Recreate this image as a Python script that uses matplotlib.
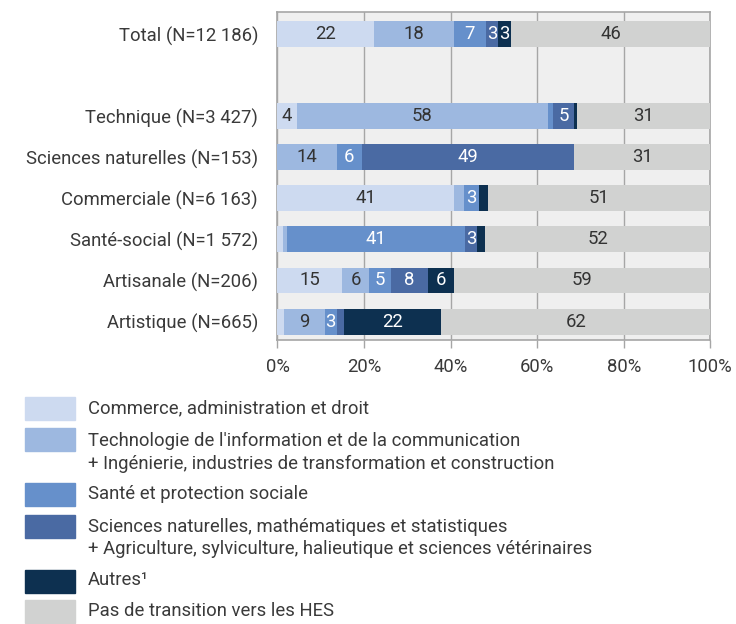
import matplotlib.pyplot as plt
from matplotlib.patches import Rectangle

plt.rcParams['font.family'] = ['Roboto', 'DejaVu Sans']

categories = ['Total (N=12 186)', 'Technique (N=3 427)', 'Sciences naturelles (N=153)',
              'Commerciale (N=6 163)', 'Santé-social (N=1 572)', 'Artisanale (N=206)',
              'Artistique (N=665)']
# row positions (one blank row under Total)
positions = [0, 2, 3, 4, 5, 6, 7]

commerce = [22.3, 4.4, 0, 40.7, 1.3, 14.9, 1.5]
technologie = [18.4, 58.0, 13.7, 2.4, 0.9, 6.3, 9.4]
sante = [7.4, 1.2, 5.8, 3.4, 41.2, 5.1, 2.8]
sciences = [2.9, 5.0, 49.1, 0, 2.6, 8.4, 1.7]
autres = [3.0, 0.7, 0, 2.1, 1.9, 6.0, 22.4]
pas_hes = [46.0, 30.7, 31.4, 51.4, 52.1, 59.3, 62.2]

series = [commerce, technologie, sante, sciences, autres, pas_hes]
legend_labels = ['Commerce, administration et droit',
                 "Technologie de l'information et de la communication\n+ Ingénierie, industries de transformation et construction",
                 'Santé et protection sociale',
                 'Sciences naturelles, mathématiques et statistiques\n+ Agriculture, sylviculture, halieutique et sciences vétérinaires',
                 'Autres¹',
                 'Pas de transition vers les HES']
colors = ['#cddaf0', '#9db8e0', '#6690cb', '#4a6aa3', '#0d3050', '#d1d2d1']
text_colors = ['#333333', '#333333', 'white', 'white', 'white', '#333333']

txt = '#3a3a3a'
grey = '#a6a6a6'
fs = 13.3

fig = plt.figure(figsize=(7.36, 6.24), dpi=100)
ax = fig.add_axes([0.377, 0.455, 0.588, 0.525])
ax.set_facecolor('#efefef')

left = [0] * len(categories)
for vals, c, tc in zip(series, colors, text_colors):
    ax.barh(positions, vals, left=left, height=0.63, color=c, zorder=3)
    for p, v, l in zip(positions, vals, left):
        if round(v) >= 3:
            ax.text(l + v / 2, p, str(round(v)), ha='center', va='center',
                    color=tc, fontsize=fs, zorder=4)
    left = [a + b for a, b in zip(left, vals)]

ax.set_xlim(0, 100)
ax.set_ylim(7.45, -0.52)
ax.set_xticks([0, 20, 40, 60, 80, 100])
ax.set_xticklabels(['0%', '20%', '40%', '60%', '80%', '100%'], fontsize=fs, color=txt)
ax.set_yticks(positions)
ax.set_yticklabels(categories, fontsize=fs, color=txt)
ax.tick_params(axis='y', length=0, pad=14)
ax.tick_params(axis='x', length=6, color=grey, width=1, pad=7)
ax.grid(axis='x', color=grey, linewidth=1, zorder=1)
for s in ax.spines.values():
    s.set_color(grey)
    s.set_linewidth(1.2)

# legend drawn by hand
W, H = 736, 624
patch_tops = [397, 428, 483, 515, 570, 600]
text_y = [408, 452, 494, 538, 580, 611]
for c, lab, top, ty in zip(colors, legend_labels, patch_tops, text_y):
    fig.patches.append(Rectangle((25 / W, 1 - (top + 23) / H), 50 / W, 23 / H,
                                 transform=fig.transFigure, color=c))
    fig.text(88 / W, 1 - ty / H, lab, ha='left', va='center', fontsize=fs,
             color=txt, linespacing=1.35)

fig.savefig('out.png', dpi=100)
